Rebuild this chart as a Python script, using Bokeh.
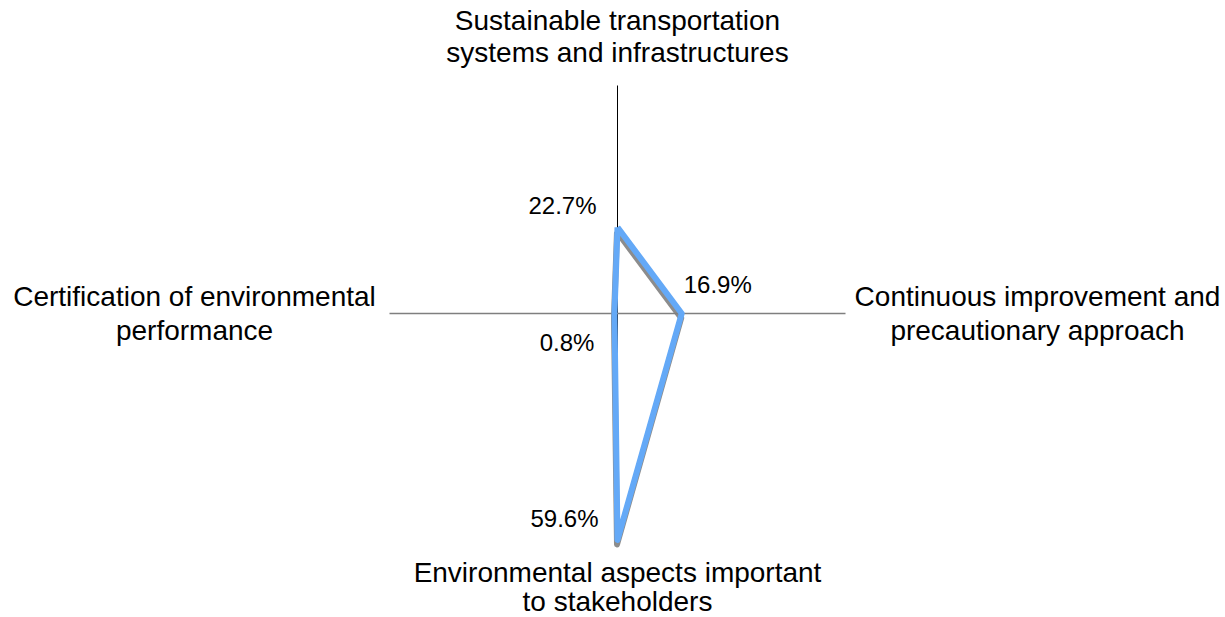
import numpy as np
from bokeh.plotting import figure
from bokeh.models import Range1d
from bokeh.core.properties import value
from bokeh.embed import file_html
from bokeh.resources import INLINE

# Radar chart: share of responses per environmental topic
categories = [
    "Sustainable transportation\nsystems and infrastructures",
    "Continuous improvement and\nprecautionary approach",
    "Environmental aspects important\nto stakeholders",
    "Certification of environmental\nperformance",
]
shares = [0.227, 0.169, 0.596, 0.008]
axis_max = 0.6

# Geometry (pixels)
W, H = 1225, 617
CX, CY = 617, 313          # centre of the radar in screen pixels
RADIUS_PX = 228            # length of one spoke
scale = RADIUS_PX / axis_max  # px per data unit

FONT = value("Liberation Sans")

p = figure(
    width=W, height=H,
    x_range=Range1d(-CX / scale, (W - CX) / scale),
    y_range=Range1d(-(H - CY) / scale, CY / scale),
    output_backend="svg", toolbar_location=None,
    min_border=0, outline_line_color=None,
)
p.axis.visible = False
p.grid.visible = False
p.background_fill_color = "white"
p.border_fill_color = "white"

# Spokes: clockwise from the top
angles = np.deg2rad([90, 0, -90, 180])
cos_a, sin_a = np.cos(angles), np.sin(angles)

# vertical and horizontal axis lines
p.line([0, 0], [-axis_max, axis_max], line_color="black", line_width=1)
p.line([-axis_max, axis_max], [0, 0], line_color="#7f7f7f", line_width=1.5)

# series polygon (closed)
vals = np.array(shares)
xs = list(vals * cos_a) + [vals[0] * cos_a[0]]
ys = list(vals * sin_a) + [vals[0] * sin_a[0]]

# drop shadow, shifted a few pixels down
sdx, sdy = -0.5 / scale, -4.5 / scale
p.line([x + sdx for x in xs], [y + sdy for y in ys],
       line_color="#7f7f7f", line_width=6, line_join="round", line_alpha=0.9)
p.line(xs, ys, line_color="#64a9f7", line_width=6, line_join="round")

# value labels next to each vertex
lab_x_off = [-21, 2, -19, -20]
lab_y_off = [-22, -29, -21, 29]
lab_align = ["right", "left", "right", "right"]
for i, v in enumerate(shares):
    p.text([v * cos_a[i]], [v * sin_a[i]], text=[f"{v * 100:.1f}%"],
           x_offset=lab_x_off[i], y_offset=lab_y_off[i],
           text_align=lab_align[i], text_baseline="alphabetic",
           text_font=FONT, text_font_size="24px", text_color="black")

# category labels, one glyph per line, centred on each block
cat_cx = [617, 1037, 617, 194]
cat_base = [[20, 52], [296, 330], [572, 601], [296, 330]]
for i, cat in enumerate(categories):
    for line, base in zip(cat.split("\n"), cat_base[i]):
        p.text([(cat_cx[i] - CX) / scale], [(CY - base) / scale], text=[line],
               text_align="center", text_baseline="alphabetic",
               text_font=FONT, text_font_size="28px", text_color="black")

open("out.html", "w").write(file_html(p, INLINE))
